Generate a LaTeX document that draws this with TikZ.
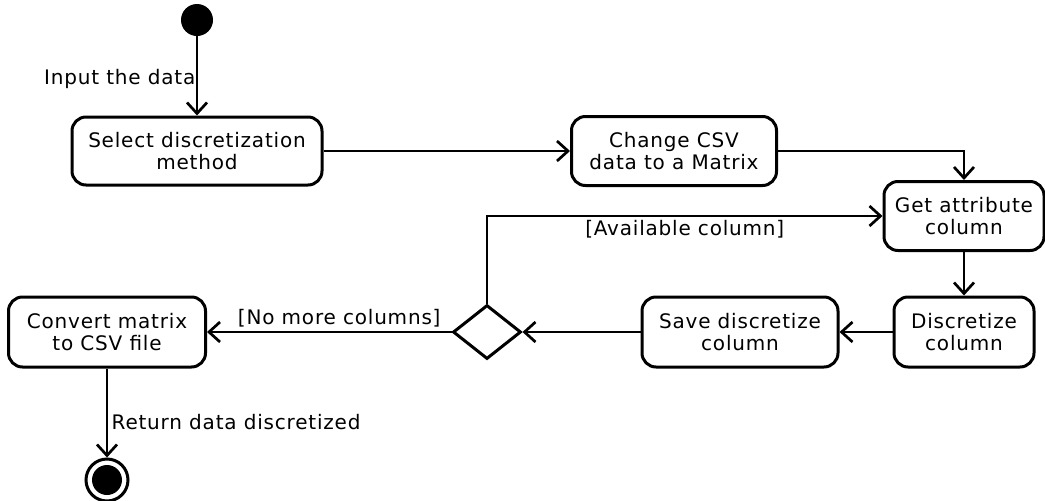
\documentclass[tikz,border=0pt]{standalone}
\usepackage{fontspec}
\setmainfont{DejaVu Sans}[LetterSpace=4]
\usetikzlibrary{shapes.geometric, arrows.meta, positioning}

\begin{document}
\begin{tikzpicture}[x=1pt, y=-1pt,
  font=\fontsize{20}{22}\selectfont,
  activity/.style={draw, rounded corners=14pt, line width=3pt, align=center, inner sep=0pt},
  flow/.style={-{Straight Barb[length=11pt,width=20pt]}, line width=2.7pt}]

% Fix the page size
\useasboundingbox (0,0) rectangle (1045,501);

% Initial node
\node[circle, fill=black, minimum size=32pt, inner sep=0pt] (start) at (197,20) {};

% Activities
\node[activity, minimum width=250pt, minimum height=68pt] (selectMethod) at (197,151) {Select discretization\\method};
\node[activity, minimum width=205pt, minimum height=69pt] (changeCsv) at (674,151) {Change CSV\\data to a Matrix};
\node[activity, minimum width=160pt, minimum height=69pt] (getColumn) at (964,216) {Get attribute\\column};
\node[activity, minimum width=140pt, minimum height=70pt] (discretize) at (964,332) {Discretize\\column};
\node[activity, minimum width=196pt, minimum height=70pt] (saveColumn) at (740,332) {Save discretize\\column};
\node[activity, minimum width=197pt, minimum height=70pt] (convertCsv) at (107,332) {Convert matrix\\to CSV file};

% Decision node
\node[diamond, draw, line width=3pt, minimum width=68pt, minimum height=54pt, inner sep=0pt] (choice) at (487,332) {};

% Final node
\node[circle, draw, line width=3pt, minimum size=42pt, inner sep=0pt] (finish) at (107,480) {};
\node[circle, fill=black, minimum size=30pt, inner sep=0pt] (finishDot) at (finish) {};

% Control flow
\draw[flow] (start) -- (selectMethod) node[midway, left, xshift=3pt, yshift=-3pt] {Input the data};
\draw[flow] (selectMethod) -- (changeCsv);
\draw[flow] (changeCsv) -| (getColumn);
\draw[flow] (getColumn) -- (discretize);
\draw[flow] (discretize) -- (saveColumn);
\draw[flow] (saveColumn) -- (choice);
\draw[flow] (choice) |- (getColumn) node[pos=0.75, below] {[Available column]};
\draw[flow] (choice) -- (convertCsv) node[midway, above, xshift=10pt] {[No more columns]};
\draw[flow] (convertCsv) -- (finish) node[pos=0.6, right] {Return data discretized};

\end{tikzpicture}
\end{document}
